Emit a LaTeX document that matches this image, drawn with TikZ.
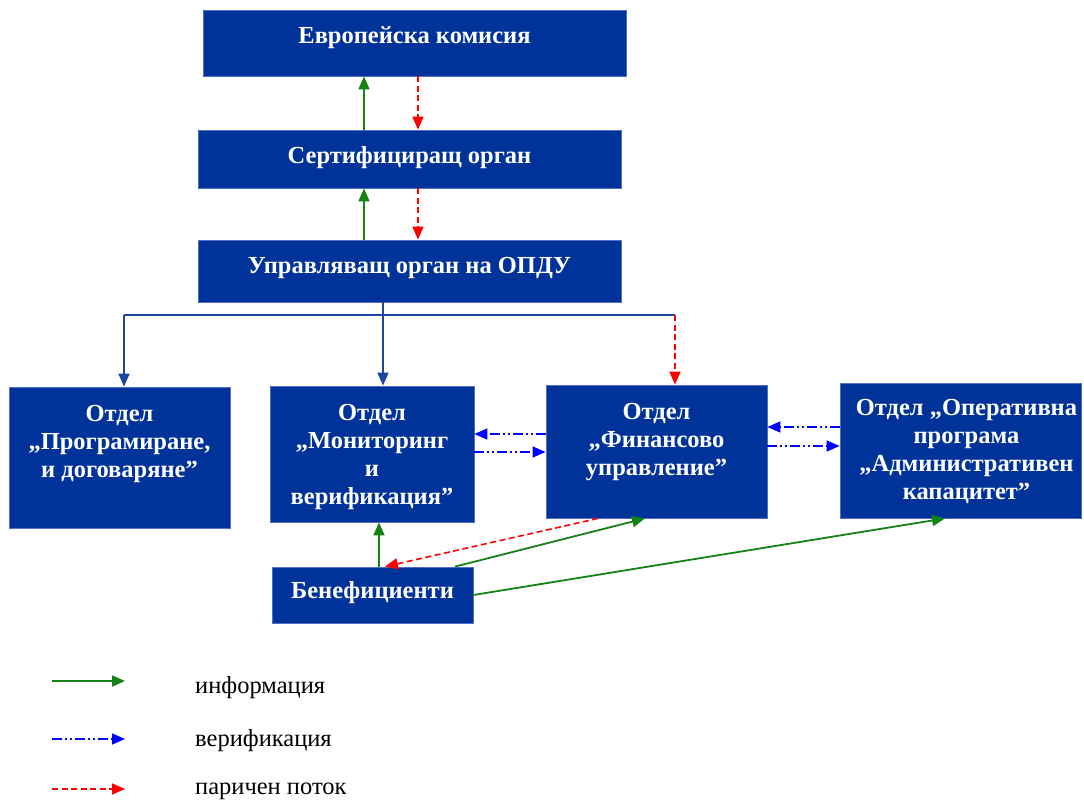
\documentclass[tikz,border=0pt]{standalone}
\usepackage{fontspec}
\setmainfont{Liberation Serif}
\usetikzlibrary{positioning,arrows.meta}

\definecolor{boxblue}{RGB}{0,51,153}
\definecolor{boxline}{RGB}{80,110,200}
\definecolor{orgblue}{RGB}{30,70,160}
\definecolor{infogreen}{RGB}{20,130,20}

\tikzset{
    box/.style={draw=boxline, fill=boxblue, line width=0.8pt},
    boxtext/.style={text=white, font=\fontsize{24.5}{28}\selectfont\bfseries, align=center, inner sep=0pt},
    legendtext/.style={font=\fontsize{24.5}{28}\selectfont, inner sep=0pt, anchor=west},
    >={Triangle[length=13pt,width=11pt]},
    info/.style={->, draw=infogreen, line width=1.8pt},
    money/.style={->, draw=red, line width=1.6pt, dash pattern=on 6pt off 3.5pt},
    verif/.style={->, draw=blue, line width=1.6pt, dash pattern=on 10pt off 3pt on 2pt off 3pt on 2pt off 3pt},
    org/.style={draw=orgblue, line width=1.8pt}
}

\begin{document}
\begin{tikzpicture}[x=1pt, y=-1pt]
    \useasboundingbox (0,0) rectangle (1084,800);

    % boxes
    \node (ec) at (414.5, 43) [box, minimum width=423pt, minimum height=66pt] {};
    \node (cert) at (409.5, 159) [box, minimum width=423pt, minimum height=58pt] {};
    \node (ma) at (409.5, 271) [box, minimum width=423pt, minimum height=62pt] {};
    \node (prog) at (119.5, 457.5) [box, minimum width=221pt, minimum height=141pt] {};
    \node (mon) at (372, 454) [box, minimum width=204pt, minimum height=136pt] {};
    \node (fin) at (656.5, 451.5) [box, minimum width=221pt, minimum height=133pt] {};
    \node (op) at (960.5, 450.5) [box, minimum width=241pt, minimum height=135pt] {};
    \node (ben) at (372.5, 595) [box, minimum width=201pt, minimum height=56pt] {};

    \node (ec-t) [boxtext, below=17pt of ec.north] {Европейска комисия};
    \node (cert-t) [boxtext, below=17pt of cert.north] {Сертифициращ орган};
    \node (ma-t) [boxtext, below=17pt of ma.north] {Управляващ орган на ОПДУ};
    \node (prog-t) [boxtext, below=18pt of prog.north] {Отдел\\„Програмиране,\\и договаряне”};
    \node (mon-t) [boxtext, below=18pt of mon.north] {Отдел\\„Мониторинг\\и\\верификация”};
    \node (fin-t) [boxtext, below=18pt of fin.north] {Отдел\\„Финансово\\управление”};
    \node (op-t) [boxtext, below=16pt of op.north, xshift=6pt] {Отдел „Оперативна\\програма\\„Административен\\капацитет”};
    \node (ben-t) [boxtext, below=15pt of ben.north] {Бенефициенти};

    % top chain
    \draw[info] ([xshift=-45.5pt]cert.north) -- ([xshift=-45.5pt]cert.north |- ec.south);
    \draw[money] ([xshift=8.5pt]cert.north |- ec.south) -- ([xshift=8.5pt]cert.north);
    \draw[info] ([xshift=-45.5pt]ma.north) -- ([xshift=-45.5pt]ma.north |- cert.south);
    \draw[money] ([xshift=8.5pt]ma.north |- cert.south) -- ([xshift=8.5pt]ma.north);

    % departments
    \coordinate (bar-l) at (124, 315);
    \coordinate (bar-r) at (675, 315);
    \draw[org] (bar-l) -- (bar-r);
    \draw[org, ->] (bar-l) -- (bar-l |- prog.north);
    \draw[org, ->] ([xshift=-26.5pt]ma.south) -- ([xshift=-26.5pt]ma.south |- mon.north);
    \draw[money] (bar-r) -- (bar-r |- fin.north);

    \draw[verif] ([yshift=17.5pt]fin.west) -- ([yshift=20pt]mon.east);
    \draw[verif] ([yshift=2pt]mon.east) -- ([yshift=-0.5pt]fin.west);
    \draw[verif] ([yshift=23.5pt]op.west) -- ([yshift=24.5pt]fin.east);
    \draw[verif] ([yshift=5.5pt]fin.east) -- ([yshift=4.5pt]op.west);

    % beneficiaries
    \draw[info] ([xshift=6.5pt]ben.north) -- ([xshift=6.5pt]ben.north |- mon.south);
    \draw[money] ([xshift=-58.5pt]fin.south) -- ([xshift=12.5pt]ben.north);
    \draw[info] ([xshift=82.5pt]ben.north) -- ([xshift=-11.5pt]fin.south);
    \draw[info] (ben.east) -- ([xshift=-15.5pt]op.south);

    % legend
    \coordinate (li-a) at (52, 681);
    \coordinate (li-b) at (125, 681);
    \coordinate (lv-a) at (52, 739);
    \coordinate (lv-b) at (125, 739);
    \coordinate (lm-a) at (52, 789);
    \coordinate (lm-b) at (125, 789);
    \draw[info] (li-a) -- (li-b);
    \draw[verif] (lv-a) -- (lv-b);
    \draw[money] (lm-a) -- (lm-b);
    \node (l-info) at (195, 688) [legendtext] {информация};
    \node (l-verif) at (195, 741) [legendtext] {верификация};
    \node (l-money) at (195, 791) [legendtext] {паричен поток};
\end{tikzpicture}
\end{document}
